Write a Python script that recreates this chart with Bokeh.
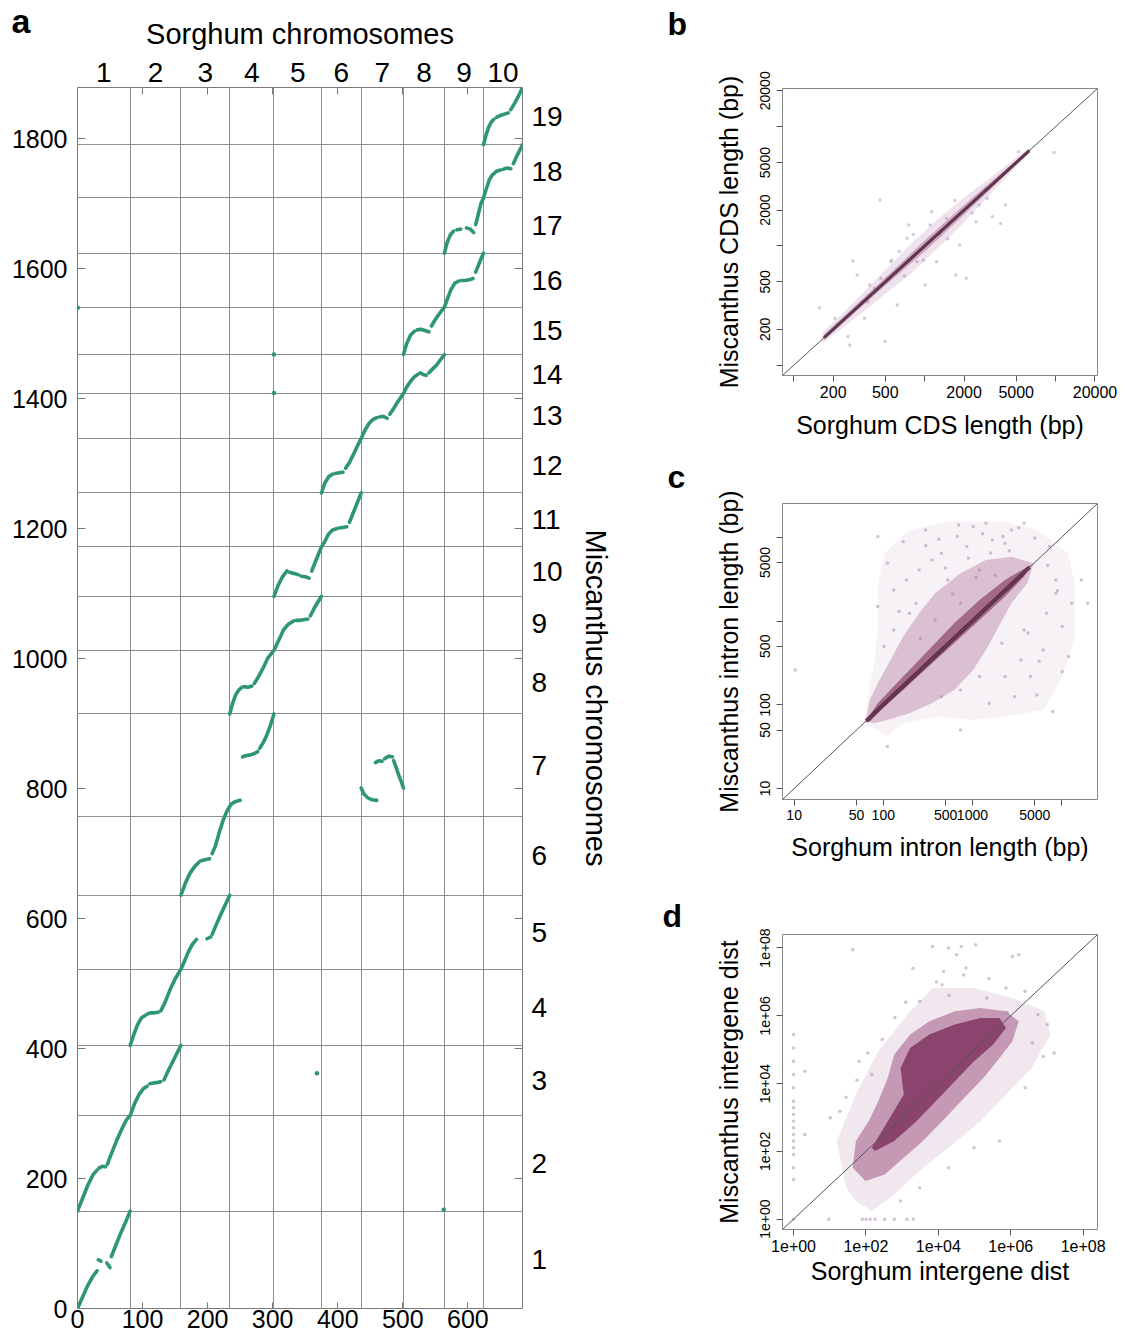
import math
from bokeh.plotting import figure
from bokeh.models import Range1d, FixedTicker, LinearAxis, Grid, Label, Slope
from bokeh.layouts import row, column
from bokeh.embed import file_html
from bokeh.resources import INLINE

FONT = "Liberation Sans"
GREEN = "#2e9677"

# ---------------- Panel a data ----------------
sorghum_chromosomes = ["1", "2", "3", "4", "5", "6", "7", "8", "9", "10"]
sorghum_bounds = [0, 81, 159, 234, 302, 375, 436, 501, 564, 624, 684]
miscanthus_chromosomes = [str(i) for i in range(1, 20)]
miscanthus_bounds = [0, 150, 297, 405, 522, 636, 757, 915, 1013, 1096, 1172,
                     1255, 1339, 1408, 1468, 1541, 1624, 1709, 1791, 1879]
a_xticks = [0, 100, 200, 300, 400, 500, 600]
a_yticks = [0, 200, 400, 600, 800, 1000, 1200, 1400, 1600, 1800]

synteny_x = [
    [0, 8, 16, 24, 30], [32, 36], [45, 48, 50], [52, 58, 66, 74, 81],
    [0, 8, 16, 24, 30], [33, 38, 43], [46, 52, 60, 68, 75, 81, 88, 95, 101, 107],
    [111, 117, 123, 128], [133, 140, 150, 159],
    [81, 86, 92, 98, 104], [107, 112, 118, 124],
    [128, 134, 142, 150, 159, 165, 171, 177, 183], [199, 205], [207, 213, 220, 227, 234],
    [159, 166, 173, 180, 186], [188, 193, 198, 203], [207, 212, 218, 224, 230, 236, 242, 250],
    [254, 260, 266, 272, 277], [280, 285, 290, 296, 302],
    [436, 440, 446, 452, 460], [458, 463, 468], [472, 478, 484], [486, 490, 494, 498, 501],
    [234, 238, 243, 248, 253], [256, 262, 268],
    [272, 278, 285, 292, 302, 310, 317, 324, 332], [336, 342, 348, 354], [358, 364, 370, 375],
    [302, 308, 315, 322], [326, 333, 340], [344, 350, 356],
    [360, 366, 372, 375, 380, 386, 392, 398], [402, 408, 414], [418, 424, 430, 436],
    [375, 380, 386, 392], [396, 402, 408], [412, 418, 424, 430, 436, 442, 448, 454, 460],
    [464, 470, 476], [480, 486, 492, 501, 506, 512, 518, 524], [527, 532, 536],
    [540, 546, 552, 558, 564],
    [501, 506, 512, 518], [522, 528, 534, 540], [544, 550, 557, 564, 569, 574, 580, 586],
    [590, 596, 602, 608], [612, 618, 624],
    [564, 568, 573, 578], [583, 589], [598, 604, 609],
    [612, 616, 620, 624, 628, 633, 638, 644, 650], [654, 660, 666], [670, 676, 684],
    [624, 628, 632, 636, 640], [644, 650, 656, 662], [666, 672, 678, 684],
]
synteny_y = [
    [0, 18, 36, 50, 58], [75, 73], [70, 66, 63], [80, 95, 115, 133, 150],
    [150, 170, 190, 206, 213], [216, 219, 218], [222, 238, 258, 276, 290, 297, 316, 330, 338, 342],
    [346, 347, 348, 349], [352, 367, 387, 405],
    [405, 420, 436, 447, 451], [453, 455, 455, 456],
    [458, 470, 490, 507, 522, 536, 550, 561, 568], [569, 572], [576, 590, 606, 621, 636],
    [636, 655, 670, 680, 686], [688, 690, 691, 692], [700, 712, 733, 752, 766, 776, 780, 782],
    [849, 851, 852, 854, 857], [862, 870, 880, 896, 915],
    [801, 792, 786, 783, 782], [840, 843, 842], [846, 850, 849], [843, 832, 820, 810, 801],
    [915, 930, 944, 952, 956], [957, 956, 958],
    [962, 972, 985, 1000, 1013, 1030, 1045, 1053, 1058], [1059, 1059, 1060, 1061], [1066, 1078, 1088, 1096],
    [1096, 1112, 1126, 1135], [1133, 1131, 1129], [1127, 1126, 1124],
    [1135, 1150, 1165, 1172, 1180, 1192, 1198, 1200], [1201, 1202, 1203], [1210, 1225, 1240, 1255],
    [1255, 1270, 1280, 1284], [1285, 1286, 1287], [1293, 1302, 1314, 1327, 1339, 1352, 1362, 1368, 1371],
    [1372, 1373, 1370], [1376, 1385, 1395, 1408, 1418, 1427, 1434, 1438], [1440, 1437, 1436],
    [1440, 1446, 1452, 1460, 1468],
    [1468, 1485, 1498, 1504], [1506, 1507, 1505, 1503], [1512, 1522, 1532, 1541, 1555, 1568, 1578, 1581],
    [1582, 1582, 1583, 1585], [1595, 1610, 1624],
    [1624, 1640, 1652, 1658], [1660, 1661], [1663, 1661, 1656],
    [1668, 1684, 1700, 1709, 1722, 1737, 1745, 1750, 1752], [1753, 1755, 1754], [1762, 1775, 1791],
    [1791, 1806, 1818, 1826, 1830], [1833, 1836, 1838, 1840], [1845, 1855, 1866, 1879],
]
isolated_x = [0.5, 302, 302, 368, 563]
isolated_y = [1540, 1468, 1409, 362, 152]

# ---------------- Panel b data (CDS length, bp) ----------------
b_ticks = [100, 200, 500, 1000, 2000, 5000, 10000, 20000]
b_tick_labels = ["", "200", "500", "", "2000", "5000", "", "20000"]
b_halo_x = [165, 300, 500, 800, 1200, 2000, 3500, 6200, 6200, 3500, 2000, 1200, 800, 500, 300, 165]
b_halo_y = [185, 355, 630, 1060, 1600, 2550, 4050, 6600, 5900, 3050, 1580, 910, 600, 395, 252, 152]
b_mid_x = [170, 500, 1000, 2000, 4000, 6300, 6300, 4000, 2000, 1000, 500, 170]
b_mid_y = [180, 540, 1110, 2200, 4250, 6500, 6150, 3800, 1830, 900, 465, 162]
b_core_x = [170, 6300]
b_core_y = [170, 6300]
b_pts_x = [455, 283, 157, 259, 267, 499, 305, 412, 617, 755, 1132, 1468, 2466, 3291, 3802,
           4150, 9750, 2075, 1726, 873, 734, 550, 463, 367, 1009, 1307, 2931, 1849, 347, 206,
           5224, 2612, 1233, 640, 820, 980, 1500, 1700, 2300, 560, 700, 380, 1100, 3000]
b_pts_y = [2427, 748, 304, 174, 148, 158, 571, 441, 320, 1496, 1936, 1703, 1596, 1758, 1545,
           2204, 6080, 536, 571, 738, 1158, 738, 536, 341, 471, 1236, 3036, 1019, 248, 248,
           6166, 2204, 738, 900, 1250, 760, 1150, 2400, 1900, 760, 560, 470, 1500, 2500]

# ---------------- Panel c data (intron length, bp) ----------------
c_xticks = [10, 50, 100, 500, 1000, 5000, 10000]
c_xtick_labels = ["10", "50", "100", "500", "1000", "5000", ""]
c_yticks = [10, 50, 100, 500, 1000, 5000, 10000]
c_ytick_labels = ["10", "50", "100", "500", "", "5000", ""]
c_halo_x = [62.5, 67.8, 80, 86.7, 86.7, 102, 197, 529, 2321, 5275, 12000, 14160, 14160,
            10180, 6220, 2321, 1020, 381, 167, 111, 73.6]
c_halo_y = [60, 137, 343, 783, 2577, 6440, 12240, 15380, 15380, 12240, 6440, 2577, 652,
            217, 86.7, 72.2, 65.9, 72.2, 60, 41.7, 54.8]
c_mid_x = [63.5, 70.6, 86.7, 120.5, 167, 252, 381, 735, 1419, 2737, 4860, 4125, 2737, 1970,
           1419, 1020, 624, 351, 197, 111, 80]
c_mid_y = [63, 114, 181, 343, 652, 1238, 2145, 3720, 5360, 5870, 4890, 2825, 1630, 858,
           452, 261, 150, 104, 79, 65.9, 60]
c_dense_x = [63.5, 86.7, 167, 323, 624, 1203, 2321, 4478, 3800, 2321, 1203, 624, 323, 167, 94.2, 70.6]
c_dense_y = [63, 104, 217, 452, 940, 1785, 3095, 4675, 3390, 1958, 1031, 542, 286, 150, 86.7, 63]
c_core_x = [64, 4400]
c_core_y = [64, 4400]
c_pts_x = [10.3, 86.7, 167, 182, 8630, 16670, 13030, 10180, 10180, 7960, 5275, 2972, 735, 111,
           6220, 3500, 86.7, 111, 298, 1020, 1670, 3800, 7330, 102, 131, 2321, 1540, 4478, 449,
           677, 252, 1419, 12000, 19630, 131, 233, 351, 529, 865, 1203, 2321, 2737, 735, 197,
           381, 3800, 6760, 2138, 1203, 735, 449, 8630, 150, 260, 420, 600, 900, 1300, 1800,
           2600, 3300, 5000, 7000, 9000, 300, 500, 700, 1100, 1600, 2200, 4200, 5600]
c_pts_y = [261, 10190, 8870, 3095, 3095, 3095, 1630, 858, 249, 83, 131, 125, 50, 31.7,
           452, 343, 1486, 4890, 12240, 13400, 9290, 14700, 7740, 495, 783, 217, 104, 217, 6440,
           10190, 4075, 14700, 376, 1630, 2350, 1630, 5360, 3095, 7740, 4075, 8480, 12240, 1630,
           1238, 1031, 783, 1238, 542, 217, 150, 125, 2145, 1300, 620, 9500, 2100, 5600, 11000,
           3500, 6900, 13000, 9800, 4600, 2300, 8000, 4300, 14000, 3300, 6500, 10200, 720, 330]

# ---------------- Panel d data (intergene distance, log10 bp) ----------------
d_ticks = [1, 100, 10000, 1000000, 100000000]
d_tick_labels = ["1e+00", "1e+02", "1e+04", "1e+06", "1e+08"]
d_halo_log10x = [1.457, 1.193, 1.722, 2.340, 3.222, 3.839, 4.986, 6.045, 6.927, 7.103, 6.574,
                 5.868, 5.163, 4.280, 3.575, 2.781, 2.163, 1.722]
d_halo_log10y = [0.927, 2.302, 3.677, 4.953, 6.132, 6.819, 6.819, 6.524, 6.132, 5.444, 4.462,
                 3.677, 2.891, 2.106, 1.517, 0.731, 0.240, 0.535]
d_mid_log10x = [1.634, 1.722, 2.075, 2.340, 2.604, 2.781, 3.222, 3.751, 4.457, 5.163, 5.868,
                6.221, 6.045, 5.692, 5.251, 4.721, 4.104, 3.575, 3.045, 2.516, 1.987]
d_mid_log10y = [1.517, 2.302, 2.891, 3.481, 4.168, 4.855, 5.444, 5.837, 6.132, 6.230, 6.132,
                5.837, 5.248, 4.757, 4.168, 3.579, 2.891, 2.302, 1.811, 1.320, 1.124]
d_dense_log10x = [2.163, 2.604, 3.045, 2.957, 3.222, 3.751, 4.457, 5.163, 5.692, 5.868, 5.516,
                  4.986, 4.457, 3.928, 3.398, 2.781, 2.251]
d_dense_log10y = [2.106, 2.891, 3.677, 4.462, 5.052, 5.444, 5.739, 5.935, 5.935, 5.641, 5.150,
                  4.659, 4.070, 3.481, 2.891, 2.302, 2.008]
d_pts_log10x = [3.839, 4.280, 4.501, 4.633, 4.148, 4.766, 5.030, 6.045, 6.221, 1.634, 4.104,
                3.486, 5.339, 5.868, 6.398, 6.751, 7.015, 1.016, 1.281, 0.311, 0.311, 1.810,
                2.163, 5.692, 4.986, 6.398, 4.280, 3.486, 2.957, 2.45, 2.80, 3.10, 6.60,
                6.90, 7.20, 1.45, 1.75, 2.05, 3.95, 4.30, 4.70, 5.40, 3.30, 5.90,
                0.972, 1.899, 2.004, 2.119, 2.251, 2.516, 2.781, 3.134, 3.310, 0.0,
                0, 0, 0, 0, 0, 0, 0, 0, 0, 0, 0, 0, 0, 0, 0, 0]
d_pts_log10y = [8.046, 7.997, 7.801, 8.046, 7.310, 7.408, 8.095, 7.752, 7.801, 7.948, 6.917,
                6.426, 6.524, 6.819, 6.721, 6.034, 5.739, 2.990, 3.186, 2.499, 4.364, 4.659,
                4.266, 2.302, 2.106, 3.873, 1.517, 0.927, 0.535, 5.30, 5.95, 6.40, 5.20,
                4.80, 4.90, 3.60, 4.10, 4.90, 7.00, 6.60, 7.20, 7.10, 7.40, 6.10,
                0, 0, 0, 0, 0, 0, 0, 0, 0, 0,
                5.444, 5.052, 4.659, 4.266, 3.873, 3.481, 3.284, 3.088, 2.891, 2.695, 2.499,
                2.302, 2.106, 1.910, 1.517, 1.173]

panel_letters = ["a", "b", "c", "d"]

def letter_label(letter, x, y, size):
    # placed in a side panel, so it is positioned relative to that panel and not clipped
    return Label(x=x, y=y, x_units="screen", y_units="screen", text=letter,
                 text_font=FONT, text_font_size=size, text_font_style="bold",
                 text_color="black", text_baseline="alphabetic")

# ---------------- Panel a figure ----------------
pa = figure(width=640, height=1338, x_range=Range1d(0, sorghum_bounds[-1]),
            y_range=Range1d(0, miscanthus_bounds[-1]), x_axis_type=None, y_axis_type=None,
            output_backend="svg", toolbar_location=None,
            min_border_left=77, min_border_right=118, min_border_top=87, min_border_bottom=30)
pa.outline_line_color = "#7a7a7a"
pa.outline_line_width = 1

pa.add_layout(Grid(dimension=0, ticker=FixedTicker(ticks=sorghum_bounds[1:-1]),
                   grid_line_color="#8c8c8c", grid_line_width=1))
pa.add_layout(Grid(dimension=1, ticker=FixedTicker(ticks=miscanthus_bounds[1:-1]),
                   grid_line_color="#8c8c8c", grid_line_width=1))

def style_axis(ax, size):
    ax.axis_line_color = None
    ax.major_label_text_font = FONT
    ax.major_label_text_font_size = size
    ax.major_label_text_color = "black"
    ax.axis_label_text_font = FONT
    ax.axis_label_text_font_style = "normal"
    ax.axis_label_text_color = "black"

ax_b = LinearAxis(ticker=FixedTicker(ticks=a_xticks))
style_axis(ax_b, "25px")
ax_b.major_tick_in = 6
ax_b.major_tick_out = 0
ax_b.major_tick_line_color = "#777777"
ax_b.minor_tick_line_color = None
ax_b.major_label_standoff = 1
pa.add_layout(ax_b, "below")

ax_l = LinearAxis(ticker=FixedTicker(ticks=a_yticks))
style_axis(ax_l, "25px")
ax_l.major_tick_in = 8
ax_l.major_tick_out = 0
ax_l.major_tick_line_color = "#777777"
ax_l.minor_tick_line_color = None
ax_l.major_label_standoff = 10
pa.add_layout(ax_l, "left")

sb_mid = [(sorghum_bounds[i] + sorghum_bounds[i + 1]) / 2 for i in range(len(sorghum_chromosomes))]
ax_t = LinearAxis(ticker=FixedTicker(ticks=sb_mid, minor_ticks=a_xticks[1:]))
style_axis(ax_t, "28px")
ax_t.major_label_overrides = {m: lab for m, lab in zip(sb_mid, sorghum_chromosomes)}
ax_t.major_tick_in = 0
ax_t.major_tick_out = 0
ax_t.minor_tick_in = 7
ax_t.minor_tick_out = 0
ax_t.minor_tick_line_color = "#777777"
ax_t.major_label_standoff = 6
ax_t.axis_label = "Sorghum chromosomes"
ax_t.axis_label_text_font_size = "29px"
ax_t.axis_label_standoff = 10
pa.add_layout(ax_t, "above")

ms_mid = [(miscanthus_bounds[i] + miscanthus_bounds[i + 1]) / 2 for i in range(len(miscanthus_chromosomes))]
ax_r = LinearAxis(ticker=FixedTicker(ticks=ms_mid, minor_ticks=a_yticks[1:]))
style_axis(ax_r, "28px")
ax_r.major_label_overrides = {m: lab for m, lab in zip(ms_mid, miscanthus_chromosomes)}
ax_r.major_tick_in = 0
ax_r.major_tick_out = 0
ax_r.minor_tick_in = 8
ax_r.minor_tick_out = 0
ax_r.minor_tick_line_color = "#777777"
ax_r.major_label_standoff = 9
ax_r.axis_label = "Miscanthus chromosomes"
ax_r.axis_label_text_font_size = "29px"
ax_r.axis_label_standoff = 14
pa.add_layout(ax_r, "right")

# letter "a": outermost element of the right-hand side panel (added after the right axis)
pa.add_layout(letter_label(panel_letters[0], -603, 1308 - 32 + 12, "34px"), "right")

pa.multi_line(xs=synteny_x, ys=synteny_y, line_color=GREEN, line_width=3.6,
              line_cap="round", line_join="round")
pa.scatter(isolated_x, isolated_y, size=4.5, fill_color=GREEN, line_color=None)

# ---------------- scatter panels ----------------
HALO, MID, DENSE, CORE, PT = "#c6a0bf", "#9a4c7a", "#72204e", "#4a0f33", "#a07aa3"

def log_panel(height, lo, hi, xticks, xlabels, yticks, ylabels, xlab, ylab,
              bl, bt, br, bb, x_lab_standoff, xfont, letter, lx, ly):
    p = figure(width=497, height=height, x_axis_type="log", y_axis_type="log",
               x_range=Range1d(lo, hi), y_range=Range1d(lo, hi),
               output_backend="svg", toolbar_location=None,
               min_border_left=bl, min_border_top=bt, min_border_right=br, min_border_bottom=bb)
    p.grid.visible = False
    p.outline_line_color = "#8a8a8a"
    p.outline_line_width = 1
    for ax in (p.xaxis[0], p.yaxis[0]):
        ax.axis_line_color = None
        ax.major_tick_out = 6
        ax.major_tick_in = 0
        ax.major_tick_line_color = "#555555"
        ax.minor_tick_line_color = None
        ax.major_label_text_font = FONT
        ax.major_label_text_color = "black"
        ax.axis_label_text_font = FONT
        ax.axis_label_text_font_style = "normal"
        ax.axis_label_text_font_size = "25px"
        ax.axis_label_text_color = "black"
    p.xaxis.ticker = FixedTicker(ticks=xticks)
    p.xaxis.major_label_overrides = {t: s for t, s in zip(xticks, xlabels)}
    p.xaxis.major_label_text_font_size = xfont
    p.xaxis.major_label_standoff = 4
    p.xaxis.axis_label = xlab
    p.xaxis.axis_label_standoff = x_lab_standoff
    p.yaxis.ticker = FixedTicker(ticks=yticks)
    p.yaxis.major_label_overrides = {t: s for t, s in zip(yticks, ylabels)}
    p.yaxis.major_label_text_font_size = "14px"
    p.yaxis.major_label_orientation = "vertical"
    p.yaxis.major_label_standoff = 6
    p.yaxis.axis_label = ylab
    p.yaxis.axis_label_standoff = 15
    p.add_layout(letter_label(letter, lx, ly, "32px"), "above")
    return p

pb = log_panel(455, 82, 20900, b_ticks, b_tick_labels, b_ticks, b_tick_labels,
               "Sorghum CDS length (bp)", "Miscanthus CDS length (bp)",
               137, 88, 40, 80, 10, "16px", panel_letters[1], -115, 65)
pb.patch(b_halo_x, b_halo_y, fill_color=HALO, fill_alpha=0.3, line_color=None)
pb.patch(b_mid_x, b_mid_y, fill_color=MID, fill_alpha=0.4, line_color=None)
pb.scatter(b_pts_x, b_pts_y, size=3.5, fill_color=PT, fill_alpha=0.4, line_color=None)
pb.line(b_core_x, b_core_y, line_color=CORE, line_width=3, line_alpha=0.85)
pb.add_layout(Slope(gradient=1, y_intercept=0, line_color="#555555", line_width=1))

pc = log_panel(437, 7.4, 25300, c_xticks, c_xtick_labels, c_yticks, c_ytick_labels,
               "Sorghum intron length (bp)", "Miscanthus intron length (bp)",
               137, 48, 30, 93, 10, "14px", panel_letters[2], -115, 27)
pc.patch(c_halo_x, c_halo_y, fill_color=HALO, fill_alpha=0.14, line_color=None)
pc.patch(c_mid_x, c_mid_y, fill_color=MID, fill_alpha=0.3, line_color=None)
pc.patch(c_dense_x, c_dense_y, fill_color=DENSE, fill_alpha=0.55, line_color=None)
pc.scatter(c_pts_x, c_pts_y, size=3.5, fill_color=PT, fill_alpha=0.45, line_color=None)
pc.line(c_core_x, c_core_y, line_color=CORE, line_width=4, line_alpha=0.7)
pc.add_layout(Slope(gradient=1, y_intercept=0, line_color="#555555", line_width=1))

def exp10(v):
    return [10 ** t for t in v]

pd_ = log_panel(446, 0.495, 2.5e8, d_ticks, d_tick_labels, d_ticks, d_tick_labels,
                "Sorghum intergene dist", "Miscanthus intergene dist",
                142, 42, 26, 109, 2, "16px", panel_letters[3], -120, 19)
pd_.patch(exp10(d_halo_log10x), exp10(d_halo_log10y), fill_color=HALO, fill_alpha=0.25, line_color=None)
pd_.patch(exp10(d_mid_log10x), exp10(d_mid_log10y), fill_color=MID, fill_alpha=0.5, line_color=None)
pd_.patch(exp10(d_dense_log10x), exp10(d_dense_log10y), fill_color=DENSE, fill_alpha=0.7, line_color=None)
pd_.scatter(exp10(d_pts_log10x), exp10(d_pts_log10y), size=3.5, fill_color=PT, fill_alpha=0.45, line_color=None)
pd_.add_layout(Slope(gradient=1, y_intercept=0, line_color="#555555", line_width=1))

layout = row(pa, column(pb, pc, pd_))
open("out.html", "w").write(file_html(layout, INLINE))
